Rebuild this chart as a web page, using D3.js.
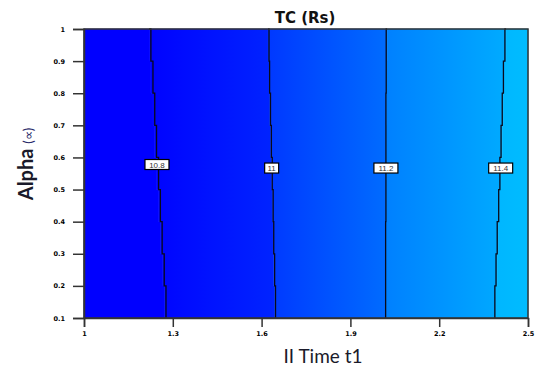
<!DOCTYPE html>
<html><head><meta charset="utf-8">
<script src="https://cdn.jsdelivr.net/npm/d3@7"></script>
<style>body{margin:0;background:#fff}svg{display:block}</style>
</head><body>
<svg id="c" width="537" height="371"></svg>
<script>
// ---- data ----
const alphaLevels = [1.0, 0.9, 0.8, 0.7, 0.6, 0.5, 0.4, 0.3, 0.2, 0.1];
const contourLevels = ["10.8", "11", "11.2", "11.4"];
const t1_108 = [1.220, 1.226, 1.233, 1.239, 1.245, 1.252, 1.258, 1.264, 1.271, 1.277];
const t1_110 = [1.622, 1.625, 1.627, 1.630, 1.633, 1.636, 1.639, 1.641, 1.644, 1.647];
const t1_112 = [2.024, 2.021, 2.021, 2.020, 2.020, 2.020, 2.020, 2.019, 2.019, 2.019];
const t1_114 = [2.426, 2.422, 2.417, 2.413, 2.409, 2.405, 2.401, 2.396, 2.392, 2.388];
const labelAlpha = [0.578, 0.567, 0.567, 0.567];
const xTicks = [1, 1.3, 1.6, 1.9, 2.2, 2.5];
const yTicks = [0.1, 0.2, 0.3, 0.4, 0.5, 0.6, 0.7, 0.8, 0.9, 1];
// fill colours of each band (start, end along t1)
const bandStart = ["#0000ff", "#0002ff", "#0038ff", "#0080ff", "#00b6ff"];
const bandEnd   = ["#0000ff", "#0024ff", "#006cff", "#00abff", "#00bcff"];

const svg = d3.select("#c");
const M = {l: 84, r: 528, t: 29, b: 318};
const x = d3.scaleLinear().domain([1, 2.5]).range([M.l, M.r]);
const y = d3.scaleLinear().domain([0.1, 1]).range([M.b, M.t]);

const series = [t1_108, t1_110, t1_112, t1_114];
const leftEdge = alphaLevels.map(() => 1);
const rightEdge = alphaLevels.map(() => 2.5);
const bounds = [leftEdge, ...series, rightEdge];

// step-shaped boundary points
function stepPts(s) {
  const pts = [];
  s.forEach((t, i) => {
    pts.push([x(t), y(alphaLevels[i])]);
    if (i < s.length - 1) pts.push([x(t), y(alphaLevels[i + 1])]);
  });
  return pts;
}

const defs = svg.append("defs");
for (let b = 0; b < 5; b++) {
  const L = bounds[b], R = bounds[b + 1];
  const gid = "g" + b;
  const g = defs.append("linearGradient").attr("id", gid)
    .attr("gradientUnits", "userSpaceOnUse")
    .attr("x1", x(d3.min(L))).attr("x2", x(d3.max(R))).attr("y1", 0).attr("y2", 0);
  g.append("stop").attr("offset", 0).attr("stop-color", bandStart[b]);
  g.append("stop").attr("offset", 1).attr("stop-color", bandEnd[b]);
  const poly = stepPts(L).concat(stepPts(R).reverse());
  svg.append("path").attr("d", "M" + poly.join("L") + "Z")
    .attr("fill", `url(#${gid})`).attr("stroke", `url(#${gid})`).attr("stroke-width", 0.6);
}

// contour lines
const line = d3.line().x(d => x(d[0])).y(d => y(d[1])).curve(d3.curveStepAfter);
series.forEach(s => {
  const pts = s.map((t, i) => [t, alphaLevels[i]]);
  svg.append("path").attr("d", line(pts))
    .attr("fill", "none").attr("stroke", "#0a0a1a").attr("stroke-width", 1.3);
});

// labels
series.forEach((s, k) => {
  const a = labelAlpha[k];
  const tv = d3.scaleLinear().domain(alphaLevels.slice().reverse()).range(s.slice().reverse())(a);
  const cx = x(tv), cy = y(a);
  const txt = contourLevels[k];
  const w = txt.length * 5 + 4, h = 10;
  svg.append("rect").attr("x", cx - w / 2).attr("y", cy - h / 2)
    .attr("width", w).attr("height", h)
    .attr("fill", "#fff").attr("stroke", "#000").attr("stroke-width", 1.2);
  svg.append("text").attr("x", cx).attr("y", cy + 3)
    .attr("text-anchor", "middle").attr("font-family", "Liberation Sans, Arial, sans-serif")
    .attr("font-size", 8).attr("fill", "#333").text(txt);
});

// frame
svg.append("rect").attr("x", x(1)).attr("y", y(1))
  .attr("width", x(2.5) - x(1)).attr("height", y(0.1) - y(1))
  .attr("fill", "none").attr("stroke", "#333").attr("stroke-width", 1.5);

// axes
const fmt = d => d3.format("")(d);
const gx = svg.append("g").attr("transform", `translate(0,${M.b})`)
  .call(d3.axisBottom(x).tickValues(xTicks).tickSize(9).tickFormat(fmt).tickPadding(4));
const gy = svg.append("g").attr("transform", `translate(${M.l},0)`)
  .call(d3.axisLeft(y).tickValues(yTicks).tickSize(11).tickFormat(fmt).tickPadding(8));
[gx, gy].forEach(g => {
  g.select(".domain").attr("stroke", "#333").attr("stroke-width", 1.5);
  g.selectAll(".tick line").attr("stroke", "#333").attr("stroke-width", 1.5);
  g.selectAll(".tick text").attr("font-family", "DejaVu Sans, sans-serif")
    .attr("font-size", 6.5).attr("font-weight", "bold").attr("fill", "#000");
});

// title
svg.append("text").attr("x", 305).attr("y", 23).attr("text-anchor", "middle")
  .attr("font-family", "DejaVu Sans, sans-serif").attr("font-weight", "bold")
  .attr("font-size", 15).attr("fill", "#111").text("TC (Rs)");

// x label
svg.append("text").attr("x", 323).attr("y", 363).attr("text-anchor", "middle")
  .attr("font-family", "Lato, 'Open Sans', sans-serif")
  .attr("font-size", 19).attr("fill", "#1a1a2a").text("II Time t1");

// y label
const yl = svg.append("text").attr("transform", "translate(33,164) rotate(-90)")
  .attr("text-anchor", "middle").attr("font-family", "Lato, 'Open Sans', sans-serif");
yl.append("tspan").attr("font-size", 20).attr("font-weight", "bold").attr("fill", "#1a1a2a").text("Alpha ");
yl.append("tspan").attr("font-size", 13).attr("fill", "#2a2a6a").text("(\u221D)");
</script>
</body></html>
